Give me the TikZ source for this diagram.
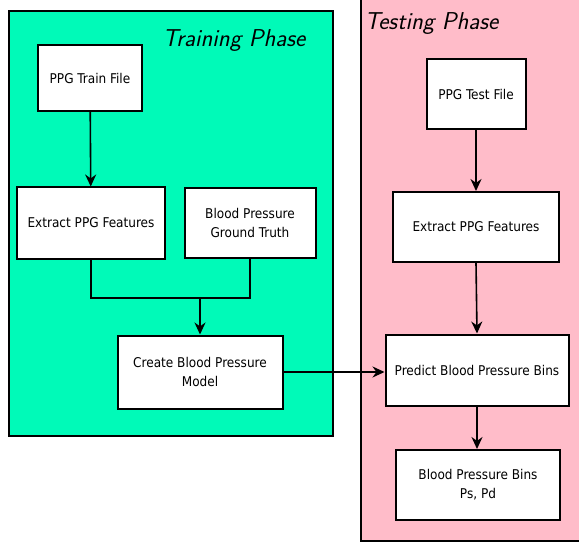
\documentclass[tikz,border=0pt]{standalone}
\usepackage{fontspec}
\setmainfont{DejaVu Sans Condensed}
\usetikzlibrary{arrows.meta}
\definecolor{trainfill}{RGB}{0,250,184}
\definecolor{testfill}{RGB}{255,188,201}
\begin{document}
\begin{tikzpicture}[x=1bp,y=-1bp,
	box/.style={draw=black,line width=2bp,fill=white,align=center,inner sep=2bp,font=\fontsize{13.5}{19}\selectfont},
	phase/.style={draw=black,line width=1.8bp},
	phasetitle/.style={font=\fontsize{24.5}{26}\selectfont\sffamily\itshape},
	link/.style={line width=1.6bp,-{Stealth[length=12bp,width=11bp]}}]
	\useasboundingbox (0,0) rectangle (579,543);
	% the two phases
	\begin{scope}
		\clip (0,0) rectangle (579,543);
		\draw [phase,fill=trainfill] (9,11) rectangle (333,436);
		\draw [phase,fill=testfill] (361,-5) rectangle (590,541);
	\end{scope}
	\node [phasetitle] (trtitle) at (234,41) {Training Phase};
	\node [phasetitle,anchor=west] (tetitle) at (361,24) {Testing Phase};
	% training side
	\node [box,minimum width=104bp,minimum height=66bp] (trfile) at (90,78) {PPG Train File};
	\node [box,minimum width=148bp,minimum height=71bp] (trfeat) at (91,223) {Extract PPG Features};
	\node [box,minimum width=131bp,minimum height=70bp] (truth) at (250,223) {Blood Pressure\\Ground Truth};
	\node [box,minimum width=165bp,minimum height=73bp] (model) at (200,372) {Create Blood Pressure\\Model};
	\coordinate (join) at (200,298);
	% testing side
	\node [box,minimum width=99bp,minimum height=70bp] (tefile) at (476,94) {PPG Test File};
	\node [box,minimum width=166bp,minimum height=70bp] (tefeat) at (476,227) {Extract PPG Features};
	\node [box,minimum width=183bp,minimum height=71bp] (predict) at (477,370) {Predict Blood Pressure Bins};
	\node [box,minimum width=164bp,minimum height=70bp] (bins) at (478,485) {Blood Pressure Bins\\Ps, Pd};
	% connectors
	\draw [link] (trfile) -- (trfeat);
	\draw [line width=1.6bp] (trfeat.south) |- (join) -| (truth.south);
	\draw [link] (join) -- (model);
	\draw [link] (model.east) -- (predict.west |- model.east);
	\draw [link] (tefile) -- (tefeat);
	\draw [link] (tefeat.south) -- (predict.north);
	\draw [link] (predict) -- (predict |- bins.north);
\end{tikzpicture}
\end{document}
